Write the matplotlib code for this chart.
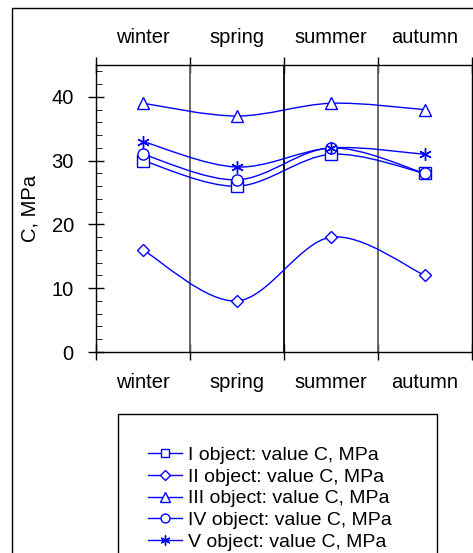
import matplotlib
matplotlib.use("Agg")
import matplotlib.pyplot as plt
from matplotlib.path import Path
from matplotlib.patches import PathPatch, Rectangle
from matplotlib.lines import Line2D
import numpy as np

plt.rcParams["font.family"] = ["Liberation Sans", "DejaVu Sans"]

seasons = ["winter", "spring", "summer", "autumn"]
obj_I = [30, 26, 31, 28]
obj_II = [16, 8, 18, 12]
obj_III = [39, 37, 39, 38]
obj_IV = [31, 27, 32, 28]
obj_V = [33, 29, 32, 31]
labels = ["I object: value C, MPa", "II object: value C, MPa",
          "III object: value C, MPa", "IV object: value C, MPa",
          "V object: value C, MPa"]
markers = ["s", "D", "^", "o", (6, 2, 0)]
msizes = [8, 6.5, 9, 8, 9]

blue = "#0000ff"
fs = 14.5


def smooth_path(xs, ys):
    # Catmull-Rom style bezier through the points (like a smoothed line)
    pts = np.column_stack([xs, ys]).astype(float)
    n = len(pts)
    verts = [pts[0]]
    codes = [Path.MOVETO]
    for i in range(n - 1):
        p0 = pts[i - 1] if i > 0 else pts[i]
        p1 = pts[i]
        p2 = pts[i + 1]
        p3 = pts[i + 2] if i + 2 < n else pts[i + 1]
        c1 = p1 + (p2 - p0) / 6.0
        c2 = p2 - (p3 - p1) / 6.0
        verts += [c1, c2, p2]
        codes += [Path.CURVE4] * 3
    return Path(verts, codes)


fig = plt.figure(figsize=(4.73, 5.53), dpi=100)
ax = fig.add_axes([96 / 473, 1 - 352 / 553, 376 / 473, 287 / 553])

x = np.arange(len(seasons)) + 0.5
series = [obj_I, obj_II, obj_III, obj_IV, obj_V]
for vals, m, ms, lab in zip(series, markers, msizes, labels):
    ax.add_patch(PathPatch(smooth_path(x, vals), facecolor="none",
                           edgecolor=blue, lw=1.0, zorder=3))
    ax.plot(x, vals, ls="none", marker=m, ms=ms, mfc="white",
            mec=blue, mew=1.0, zorder=4)

for b, c in zip([1, 2, 3], ["#606060", "black", "#606060"]):
    ax.axvline(b, color=c, lw=1.3, zorder=2)

ax.set_xlim(0, 4)
ax.set_ylim(0, 45)
ax.set_xticks([0, 1, 2, 3, 4])
ax.set_xticklabels([])
ax.set_xticks(x, minor=True)
ax.set_xticklabels(seasons, minor=True)
ax.tick_params(axis="x", which="major", direction="inout", length=12,
               top=True, bottom=True, width=1)
ax.tick_params(axis="x", which="minor", length=0, labelsize=fs, pad=15)

top = ax.secondary_xaxis("top")
top.set_xticks(x, seasons)
top.tick_params(length=0, labelsize=fs, pad=13)
top.spines["top"].set_visible(False)

ax.set_yticks([0, 10, 20, 30, 40])
ax.set_yticks(np.arange(0, 46, 2), minor=True)
ax.tick_params(axis="y", which="major", direction="inout", length=12,
               labelsize=fs, pad=10, width=1)
ax.tick_params(axis="y", which="minor", direction="in", length=4)
ax.set_ylabel("C, MPa", fontsize=fs)
ax.yaxis.set_label_coords(-0.15, 0.5)
for s in ax.spines.values():
    s.set_linewidth(1.0)

# outer frame
fig.patches.append(Rectangle((11.5 / 473, -0.1), 1.2, 1.1 - 8.5 / 553,
                             transform=fig.transFigure, fill=False,
                             edgecolor="black", lw=1.0))
# legend frame
fig.patches.append(Rectangle((118 / 473, -0.1), (437 - 118) / 473,
                             0.1 + 1 - 414 / 553, transform=fig.transFigure,
                             fill=False, edgecolor="black", lw=1.0))

handles = [Line2D([], [], color=blue, lw=1.0, marker=m, ms=ms * 0.8,
                  mfc="white", mec=blue) for m, ms in zip(markers, msizes)]
fig.legend(handles, labels, loc="upper left",
           bbox_to_anchor=(148 / 473, 1 - 446 / 553), frameon=False,
           fontsize=14, handlelength=1.75, handletextpad=0.3,
           labelspacing=0.22, borderaxespad=0, borderpad=0)

fig.savefig("out.png", dpi=100)
